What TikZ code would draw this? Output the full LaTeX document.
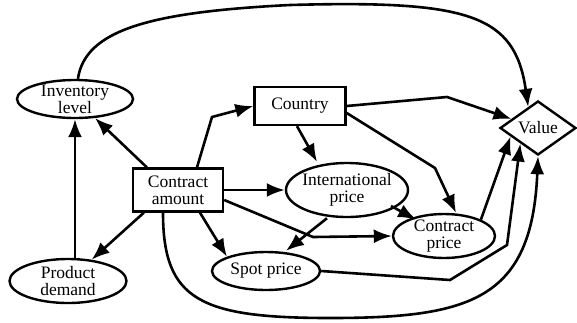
\documentclass[tikz,border=0pt]{standalone}
\usepackage{fontspec}
\setmainfont{Liberation Serif}
\usetikzlibrary{shapes.geometric,arrows.meta,calc}

\begin{document}
\begin{tikzpicture}[x=1pt, y=-1pt,
	every node/.style={font=\fontsize{17.5}{17}\selectfont},
	chancenode/.style={ellipse, draw, line width=2.4pt, inner sep=-6pt, align=center},
	decisionnode/.style={rectangle, draw, line width=2.4pt, inner sep=0pt, align=center},
	valuenode/.style={diamond, aspect=1.4, draw, line width=2.4pt, inner sep=0pt},
	> = {Latex[length=18pt, width=14pt]}, line width=2.6pt]

	\useasboundingbox (0,0) rectangle (577,322);

	% Decision, chance and value nodes

	\node [chancenode, minimum width=116, minimum height=38] (inv) at (75,99) {Inventory\\level};
	\node [chancenode, minimum width=117, minimum height=44] (demand) at (68,281) {Product\\demand};
	\node [decisionnode, minimum width=90, minimum height=43] (amount) at (178,190) {Contract\\amount};
	\node [decisionnode, minimum width=91, minimum height=38] (country) at (300,106) {Country};
	\node [chancenode, minimum width=122, minimum height=54] (intl) at (347,190) {International\\price};
	\node [chancenode, minimum width=102, minimum height=44] (cprice) at (444,236) {Contract\\price};
	\node [chancenode, minimum width=108, minimum height=38] (spot) at (266,271) {Spot price};
	\node [valuenode, minimum width=76, minimum height=54] (value) at (538,128) {Value};

	% Arcs out of the contract amount

	\draw [->] (inv.south |- demand.north) -- (inv.south);
	\draw [->] ([xshift=15]amount.north west) -- (inv);
	\draw [->] ([xshift=12]amount.south west) -- (demand);
	\draw [->] ([xshift=19]amount.north) -- (212,117) -- (country.west);
	\draw [->] (amount) -- (intl);
	\draw [->] ([xshift=22]amount.south) -- (spot.north west);
	\draw [->] ([yshift=-10]amount.east) -- (313,237) -- (cprice.west);
	\draw [->] ([xshift=-15]amount.south) .. controls (163,300) and (200,318) .. (330,318)
		.. controls (470,318) and (532,300) .. (value.south);

	% Arcs out of the country and the prices

	\draw [->] (country.east) -- (447,97) -- (value);
	\draw [->] ([xshift=-3]country.south) -- ([xshift=-30]intl.north);
	\draw [->] ([yshift=-7]country.east) -- (435,168) -- ([xshift=12]cprice.north);
	\draw [->] ([yshift=4]intl.south east) -- ([xshift=9]cprice.north west);
	\draw [->] ([xshift=-20]intl.south) -- ([xshift=20]spot.north);
	\draw [->] (cprice.north east) -- ($(value.west)!0.3!(value.south)$);
	\draw [->] (spot.east) -- (450,280) -- (507,245) -- ($(value.west)!0.55!(value.south)$);

	% Inventory level into the value

	\draw [->] (inv) .. controls (85,30) and (150,12) .. (290,5)
		.. controls (470,0) and (515,15) .. ($(value.north)!0.25!(value.west)$);

\end{tikzpicture}
\end{document}
